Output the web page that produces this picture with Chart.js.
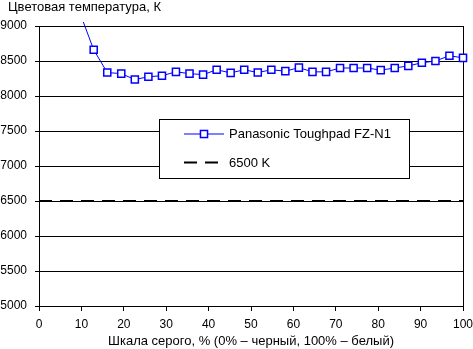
<!DOCTYPE html>
<html>
<head>
<meta charset="utf-8">
<script src="https://cdn.jsdelivr.net/npm/chart.js@4"></script>
<style>
  html, body { margin: 0; padding: 0; background: #fff; }
  canvas { display: block; }
</style>
</head>
<body>
<canvas id="c" width="473" height="349"></canvas>
<script>
// Data
const grayPercent = [9.7, 12.9, 16.1, 19.4, 22.6, 25.8, 29.0, 32.3, 35.5, 38.7, 41.9, 45.2, 48.4, 51.6, 54.8, 58.1, 61.3, 64.5, 67.7, 71.0, 74.2, 77.4, 80.6, 83.9, 87.1, 90.3, 93.5, 96.8, 100];
const colorTempK = [9180, 8660, 8335, 8320, 8235, 8275, 8290, 8345, 8320, 8305, 8375, 8330, 8375, 8335, 8375, 8355, 8405, 8345, 8345, 8400, 8400, 8400, 8370, 8400, 8430, 8475, 8500, 8575, 8545];
const refX = [0, 100];
const refK = [6500, 6500];
const seriesName = 'Panasonic Toughpad FZ-N1';
const refName = '6500 K';
const yTitle = 'Цветовая температура, К';
const xTitle = 'Шкала серого, % (0% – черный, 100% – белый)';

const FONT = '"Liberation Sans", Arial, sans-serif';

const toPoints = (xs, ys) => xs.map((x, i) => ({ x: x, y: ys[i] }));

// Shift the chart title a little to the right, as in the reference
const titleShift = {
  id: 'titleShift',
  afterLayout(chart) {
    if (chart.titleBlock) {
      chart.titleBlock.left += 8;
    }
  }
};

const boxLegend = {
  id: 'boxLegend',
  afterDraw(chart) {
    const ctx = chart.ctx;
    const bx = 159.5, by = 119.5, bw = 250, bh = 59;
    ctx.save();
    ctx.fillStyle = '#fff';
    ctx.fillRect(bx, by, bw, bh);
    ctx.strokeStyle = '#000';
    ctx.lineWidth = 1;
    ctx.strokeRect(bx, by, bw, bh);
    const rows = [134, 162.5];
    chart.data.datasets.forEach((ds, i) => {
      const y = rows[i];
      ctx.strokeStyle = ds.borderColor;
      ctx.lineWidth = ds.borderWidth;
      ctx.setLineDash(ds.borderDash || []);
      ctx.beginPath();
      ctx.moveTo(184, y);
      ctx.lineTo(ds.borderDash ? 220 : 224, y);
      ctx.stroke();
      ctx.setLineDash([]);
      if (ds.pointRadius > 0) {
        const s = ds.pointRadius * Math.SQRT1_2;
        ctx.fillStyle = ds.pointBackgroundColor;
        ctx.fillRect(204 - s, y - s, 2 * s, 2 * s);
        ctx.lineWidth = ds.pointBorderWidth;
        ctx.strokeStyle = ds.pointBorderColor;
        ctx.strokeRect(204 - s, y - s, 2 * s, 2 * s);
      }
      ctx.fillStyle = '#000';
      ctx.font = '13px ' + FONT;
      ctx.textBaseline = 'middle';
      ctx.textAlign = 'left';
      ctx.fillText(ds.label, 229, y + 0.5);
    });
    ctx.restore();
  }
};

new Chart(document.getElementById('c'), {
  type: 'line',
  data: {
    datasets: [
      {
        label: seriesName,
        data: toPoints(grayPercent, colorTempK),
        borderColor: '#0000FF',
        borderWidth: 1,
        pointStyle: 'rect',
        pointRadius: 5,
        pointBorderWidth: 1.5,
        pointBorderColor: '#0000FF',
        pointBackgroundColor: '#FFFFFF',
        tension: 0,
        clip: { left: 8, right: 8, top: 4, bottom: 8 }
      },
      {
        label: refName,
        data: toPoints(refX, refK),
        borderColor: '#000000',
        borderWidth: 2,
        borderDash: [13, 8],
        pointRadius: 0,
        tension: 0
      }
    ]
  },
  options: {
    responsive: false,
    animation: false,
    devicePixelRatio: 1,
    layout: { padding: { left: 0, right: 10, top: 0, bottom: 0 } },
    plugins: {
      legend: { display: false },
      tooltip: { enabled: false },
      title: {
        display: true,
        text: yTitle,
        align: 'start',
        color: '#000',
        font: { family: FONT, size: 13, weight: 'normal' },
        padding: { top: 0, bottom: 10.4 }
      }
    },
    scales: {
      x: {
        type: 'linear',
        min: 0,
        max: 100,
        afterFit(scale) {
          scale.height = 43;
          scale.paddingLeft = 0;
          scale.paddingRight = 0;
        },
        ticks: {
          stepSize: 10,
          color: '#000',
          padding: 6,
          maxRotation: 0,
          font: { family: FONT, size: 12 }
        },
        grid: {
          color: (c) => (c.tick && c.tick.value === 100 ? '#000' : 'rgba(0,0,0,0)'),
          tickColor: '#000',
          tickLength: 5,
          lineWidth: 1
        },
        border: { color: '#000', width: 1 },
        title: {
          display: true,
          text: xTitle,
          color: '#000',
          font: { family: FONT, size: 13 },
          padding: { top: 0, bottom: 0 }
        }
      },
      y: {
        min: 5000,
        max: 9000,
        afterFit(scale) { scale.width = 39; },
        ticks: {
          stepSize: 500,
          color: '#000',
          padding: 8,
          font: { family: FONT, size: 12 },
          callback: (v) => String(v)
        },
        grid: {
          color: '#000',
          tickColor: '#000',
          tickLength: 4,
          lineWidth: 1
        },
        border: { color: '#000', width: 1 }
      }
    }
  },
  plugins: [titleShift, boxLegend]
});
</script>
</body>
</html>
